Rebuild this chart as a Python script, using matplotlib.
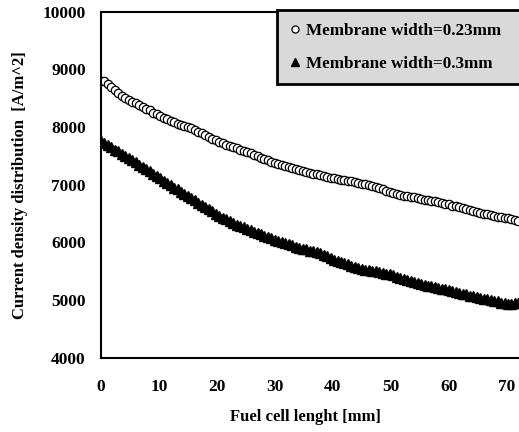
import matplotlib
matplotlib.use("Agg")
import matplotlib.pyplot as plt
import numpy as np

# fuel cell length positions [mm], one marker every 0.6 mm
length_mm = np.arange(121) * 0.6

# current density [A/m^2], membrane width 0.23 mm (open circles)
density_023 = [
    8800, 8790, 8740, 8690, 8640, 8590, 8540, 8500, 8470, 8440,
    8410, 8380, 8350, 8320, 8290, 8250, 8220, 8190, 8160, 8140,
    8110, 8090, 8060, 8040, 8020, 8000, 7980, 7950, 7920, 7890,
    7860, 7830, 7800, 7770, 7740, 7720, 7690, 7670, 7650, 7630,
    7610, 7590, 7570, 7550, 7520, 7490, 7460, 7440, 7420, 7400,
    7380, 7360, 7340, 7320, 7300, 7290, 7270, 7260, 7240, 7220,
    7210, 7190, 7180, 7170, 7150, 7140, 7120, 7110, 7100, 7090,
    7080, 7070, 7060, 7050, 7030, 7020, 7010, 7000, 6980, 6960,
    6940, 6920, 6900, 6880, 6860, 6840, 6830, 6810, 6800, 6790,
    6780, 6770, 6760, 6740, 6730, 6720, 6710, 6700, 6690, 6670,
    6660, 6640, 6630, 6620, 6600, 6580, 6570, 6550, 6530, 6510,
    6500, 6490, 6470, 6460, 6450, 6440, 6430, 6420, 6400, 6390,
    6380,
]

# current density [A/m^2], membrane width 0.3 mm (filled triangles)
density_03 = [
    7750, 7720, 7680, 7650, 7610, 7580, 7540, 7500, 7460, 7420,
    7390, 7350, 7310, 7270, 7230, 7190, 7150, 7110, 7070, 7030,
    6990, 6950, 6920, 6880, 6840, 6800, 6770, 6730, 6690, 6650,
    6610, 6580, 6540, 6500, 6460, 6430, 6400, 6370, 6340, 6310,
    6290, 6260, 6240, 6210, 6190, 6160, 6140, 6120, 6100, 6080,
    6050, 6030, 6010, 5990, 5970, 5950, 5930, 5910, 5890, 5880,
    5860, 5850, 5830, 5820, 5790, 5760, 5730, 5700, 5680, 5660,
    5640, 5620, 5600, 5580, 5560, 5540, 5530, 5520, 5510, 5500,
    5490, 5470, 5460, 5450, 5430, 5410, 5390, 5370, 5350, 5330,
    5310, 5300, 5280, 5270, 5250, 5240, 5230, 5210, 5200, 5190,
    5170, 5160, 5140, 5130, 5110, 5100, 5080, 5070, 5060, 5040,
    5030, 5020, 5000, 4990, 4980, 4960, 4950, 4940, 4940, 4950,
    4950,
]

xticks = [0, 10, 20, 30, 40, 50, 60, 70]
yticks = [4000, 5000, 6000, 7000, 8000, 9000, 10000]

plt.rcParams['font.family'] = ['Liberation Serif', 'DejaVu Serif']
plt.rcParams['font.weight'] = 'bold'

fig = plt.figure(figsize=(5.19, 4.32), dpi=100)
ax = fig.add_axes([101/519, 1 - 358/432, 1 - 101/519, (358 - 11.5)/432])

ax.plot(length_mm, density_023, linestyle='none', marker='o', markersize=6,
        markerfacecolor='white', markeredgecolor='black', markeredgewidth=0.9,
        label='Membrane width=0.23mm')
ax.plot(length_mm, density_03, linestyle='none', marker='^', markersize=6.5,
        markerfacecolor='black', markeredgecolor='black',
        label='Membrane width=0.3mm')

ax.set_xlim(0, 72.1)
ax.set_ylim(4000, 10000)
ax.set_xticks(xticks)
ax.set_yticks(yticks)
ax.tick_params(axis='x', length=0, labelsize=12.5, pad=15)
ax.tick_params(axis='y', length=0, labelsize=12.5, pad=11)
for lbl in ax.get_xticklabels() + ax.get_yticklabels():
    lbl.set_fontweight('bold')
for s in ax.spines.values():
    s.set_linewidth(1.5)
ax.spines['right'].set_visible(False)

ax.set_xlabel('Fuel cell lenght [mm]', fontsize=12, fontweight='bold', va='center')
ax.set_ylabel('Current density distribution  [A/m^2]', fontsize=12,
              fontweight='bold', va='center')
ax.xaxis.set_label_coords((305 - 101) / 418, (358 - 417) / 346.5)
ax.yaxis.set_label_coords((20 - 101) / 418, (358 - 185) / 346.5)

leg = ax.legend(loc='upper left', bbox_to_anchor=(0.421, 1.003, 0.62, 0),
                mode='expand', fontsize=12.3, frameon=True, fancybox=False,
                handlelength=0.6, handletextpad=0.35, borderpad=0.75,
                labelspacing=0.95, borderaxespad=0, markerscale=0.85)
leg.get_frame().set_facecolor('#d9d9d9')
leg.get_frame().set_edgecolor('black')
leg.get_frame().set_linewidth(2)
leg.get_frame().set_alpha(1)
for t in leg.get_texts():
    t.set_fontweight('bold')

fig.savefig('out.png', dpi=100)
